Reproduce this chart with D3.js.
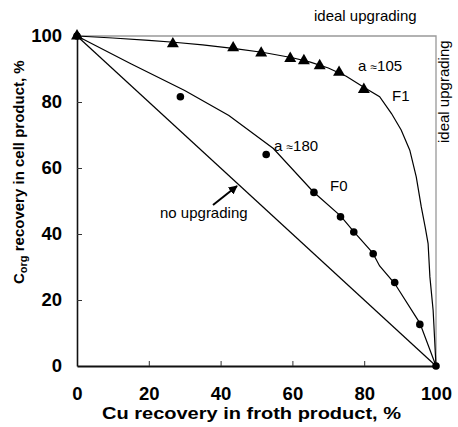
<!DOCTYPE html>
<html>
<head>
<meta charset="utf-8">
<script src="https://cdn.jsdelivr.net/npm/d3@7"></script>
<style>
  html, body { margin: 0; padding: 0; background: #fff; }
  svg { display: block; font-family: "Liberation Sans", Arial, sans-serif; }
</style>
</head>
<body>
<svg id="chart" width="458" height="427"></svg>
<script>
// ---- data ----
const tickValues = [0, 20, 40, 60, 80, 100];
const xTitle = "Cu recovery in froth product, %";

// measured F1 points (triangles)
const f1PointsX = [0, 26.7, 43.5, 51.3, 59.4, 63.2, 67.6, 73.0, 79.9];
const f1PointsY = [100, 97.6, 96.4, 94.8, 93.2, 92.5, 91.0, 89.0, 83.8];
// F1 fitted curve
const f1CurveX = [0, 10, 20, 27, 35, 44, 52, 60, 65, 70, 75, 80, 84.3, 87.6, 90.3, 92.7, 94.5, 95.9, 97.0, 97.8, 98.3, 99.2, 100];
const f1CurveY = [100, 99.4, 98.7, 98.1, 97.3, 96.2, 95.0, 93.4, 92.1, 90.3, 87.8, 84.4, 81.6, 76.5, 71.5, 65.4, 57.3, 48.2, 42.0, 37.1, 27.0, 16.9, 0];

// measured F0 points (circles)
const f0PointsX = [0, 28.8, 52.7, 66.0, 73.4, 77.1, 82.5, 88.5, 95.5, 100];
const f0PointsY = [100, 81.6, 64.1, 52.6, 45.2, 40.6, 34.0, 25.3, 12.6, 0];
// F0 fitted curve
const f0CurveX = [0, 15, 30, 42.3, 54.7, 65.8, 73.4, 77.1, 82.3, 84.3, 88.5, 95.5, 100];
const f0CurveY = [100, 91.6, 83.5, 75.9, 65.9, 52.8, 45.5, 40.7, 34.4, 30.3, 25.0, 13.0, 0];

// reference lines
const noUpgradeX = [0, 100];
const noUpgradeY = [100, 0];
const idealX = [0, 100, 100];
const idealY = [100, 100, 0];

// ---- layout ----
const svg = d3.select("#chart");
const x = d3.scaleLinear().domain([0, 100]).range([77, 436]);
const y = d3.scaleLinear().domain([0, 100]).range([366, 36]);

const zip = (a, b) => a.map((v, i) => [v, b[i]]);
const line = d3.line().x(d => x(d[0])).y(d => y(d[1]));

// ideal upgrading line (grey frame top/right)
svg.append("path").attr("d", line(zip(idealX, idealY)))
  .attr("fill", "none").attr("stroke", "#999").attr("stroke-width", 1.3);

// axes
const xAxis = d3.axisBottom(x).tickValues(tickValues).tickSize(-5).tickSizeOuter(0).tickPadding(21);
const yAxis = d3.axisLeft(y).tickValues(tickValues).tickSize(-5).tickSizeOuter(0).tickPadding(15);

const gx = svg.append("g").attr("transform", `translate(0,${y(0)})`).call(xAxis);
const gy = svg.append("g").attr("transform", `translate(${x(0)},0)`).call(yAxis);

[gx, gy].forEach(g => {
  g.selectAll("text").attr("font-size", 18.5).attr("font-weight", "bold")
    .attr("fill", "#000").attr("font-family", '"Liberation Sans", Arial, sans-serif');
  g.selectAll(".tick line").attr("stroke", "#333").attr("stroke-width", 1);
});
gx.selectAll(".tick").filter(d => d === 0 || d === 100).select("line").remove();
gy.selectAll(".tick").filter(d => d === 0 || d === 100).select("line").remove();
gx.select(".domain").attr("stroke", "#111").attr("stroke-width", 2);
gy.select(".domain").attr("stroke", "#111").attr("stroke-width", 1.6);

// curves
const curveStyle = p => p.attr("fill", "none").attr("stroke", "#000").attr("stroke-width", 1.2);
svg.append("path").attr("d", line(zip(noUpgradeX, noUpgradeY))).call(curveStyle);
svg.append("path").attr("d", line(zip(f0CurveX, f0CurveY))).call(curveStyle);
svg.append("path").attr("d", line(zip(f1CurveX, f1CurveY))).call(curveStyle);

// markers
svg.append("g").selectAll("circle").data(zip(f0PointsX, f0PointsY)).join("circle")
  .attr("cx", d => x(d[0])).attr("cy", d => y(d[1])).attr("r", 3.8).attr("fill", "#000");
const tri = d3.symbol().type(d3.symbolTriangle).size(62);
svg.append("g").selectAll("path").data(zip(f1PointsX, f1PointsY)).join("path")
  .attr("d", tri).attr("transform", d => `translate(${x(d[0])},${y(d[1])})`).attr("fill", "#000");

// annotations
const ann = (tx, ty, parts) => {
  const t = svg.append("text").attr("x", tx).attr("y", ty).attr("font-size", 15).attr("fill", "#000");
  parts.forEach(([s, fs]) => { const ts = t.append("tspan").text(s); if (fs) ts.attr("font-size", fs); });
  return t;
};
ann(358, 71, [["a "], ["\u2248", 12], ["105"]]);
ann(392, 101, [["F1"]]);
ann(274, 151, [["a "], ["\u2248", 12], ["180"]]);
ann(330, 191, [["F0"]]);
ann(160, 218, [["no upgrading"]]);
ann(314, 21, [["ideal upgrading"]]);
svg.append("text").attr("transform", "translate(449,143) rotate(-90)")
  .attr("font-size", 15).attr("fill", "#000").text("ideal upgrading");

// arrow
svg.append("defs").append("marker").attr("id", "ah").attr("viewBox", "0 0 10 10")
  .attr("refX", 9).attr("refY", 5).attr("markerWidth", 9).attr("markerHeight", 9)
  .attr("markerUnits", "userSpaceOnUse").attr("orient", "auto")
  .append("path").attr("d", "M0,0 L10,5 L0,10 Z").attr("fill", "#000");
svg.append("line").attr("x1", 213).attr("y1", 205).attr("x2", 237).attr("y2", 186)
  .attr("stroke", "#000").attr("stroke-width", 2).attr("marker-end", "url(#ah)");

// axis titles
svg.append("text").attr("x", 102).attr("y", 419)
  .attr("font-size", 16).attr("font-weight", "bold").attr("fill", "#000")
  .attr("textLength", 299).attr("lengthAdjust", "spacingAndGlyphs").text(xTitle);
const yt = svg.append("text").attr("transform", "translate(24,284) rotate(-90)")
  .attr("font-size", 15).attr("font-weight", "bold").attr("fill", "#000");
yt.append("tspan").text("C");
yt.append("tspan").attr("font-size", 11).attr("dy", 3).text("org");
yt.append("tspan").attr("dy", -3).text(" recovery in cell product, %");
</script>
</body>
</html>
